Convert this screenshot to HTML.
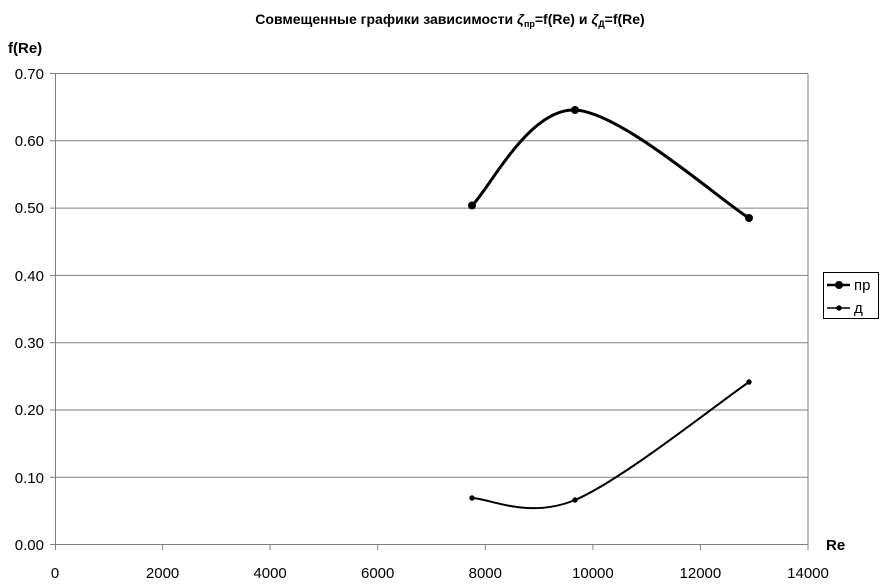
<!DOCTYPE html>
<html><head><meta charset="utf-8"><style>
body{margin:0;background:#fff;}
svg{display:block;font-family:"Liberation Sans",Arial,sans-serif;}
</style></head><body>
<svg width="888" height="588" viewBox="0 0 888 588" xmlns="http://www.w3.org/2000/svg">
<rect width="888" height="588" fill="#fff"/>
<text x="450" y="24" font-size="14" font-weight="bold" text-anchor="middle">Совмещенные графики зависимости <tspan font-style="italic">ζ</tspan><tspan font-size="9" dy="3">пр</tspan><tspan dy="-3">=f(Re) и </tspan><tspan font-style="italic">ζ</tspan><tspan font-size="9" dy="3">Д</tspan><tspan dy="-3">=f(Re)</tspan></text>
<text x="8" y="53" font-size="15" font-weight="bold">f(Re)</text>
<g stroke="#808080" stroke-width="1">
<line x1="55" y1="73.5" x2="808" y2="73.5"/>
<line x1="55" y1="140.8" x2="808" y2="140.8"/>
<line x1="55" y1="208.1" x2="808" y2="208.1"/>
<line x1="55" y1="275.4" x2="808" y2="275.4"/>
<line x1="55" y1="342.7" x2="808" y2="342.7"/>
<line x1="55" y1="410" x2="808" y2="410"/>
<line x1="55" y1="477.3" x2="808" y2="477.3"/>
<line x1="808" y1="73.5" x2="808" y2="544.5"/>
<line x1="55.5" y1="73" x2="55.5" y2="550"/>
<line x1="55" y1="544.5" x2="808" y2="544.5"/>
</g>
<g stroke="#808080">
<line x1="162.6" y1="544" x2="162.6" y2="550"/><line x1="270.1" y1="544" x2="270.1" y2="550"/>
<line x1="377.7" y1="544" x2="377.7" y2="550"/><line x1="485.3" y1="544" x2="485.3" y2="550"/>
<line x1="592.9" y1="544" x2="592.9" y2="550"/><line x1="700.4" y1="544" x2="700.4" y2="550"/>
<line x1="808" y1="544" x2="808" y2="550"/>
<line x1="50" y1="73.5" x2="55" y2="73.5"/><line x1="50" y1="140.8" x2="55" y2="140.8"/><line x1="50" y1="208.1" x2="55" y2="208.1"/><line x1="50" y1="275.4" x2="55" y2="275.4"/><line x1="50" y1="342.7" x2="55" y2="342.7"/><line x1="50" y1="410" x2="55" y2="410"/><line x1="50" y1="477.3" x2="55" y2="477.3"/><line x1="50" y1="544.5" x2="55" y2="544.5"/>
</g>
<g font-size="15" text-anchor="end">
<text x="44" y="79">0.70</text><text x="44" y="146">0.60</text><text x="44" y="213">0.50</text><text x="44" y="281">0.40</text><text x="44" y="348">0.30</text><text x="44" y="415">0.20</text><text x="44" y="483">0.10</text><text x="44" y="550">0.00</text>
</g>
<g font-size="15" text-anchor="middle">
<text x="55" y="578">0</text><text x="162.6" y="578">2000</text><text x="270.1" y="578">4000</text><text x="377.7" y="578">6000</text><text x="485.3" y="578">8000</text><text x="592.9" y="578">10000</text><text x="700.4" y="578">12000</text><text x="808" y="578">14000</text>
</g>
<text x="826" y="550" font-size="15" font-weight="bold">Re</text>
<path d="M472,205.5 C489,189.6 528.8,107.9 575,110 C621.2,112.1 720,200 749,218" fill="none" stroke="#000" stroke-width="3"/>
<circle cx="472" cy="205.5" r="4"/><circle cx="575" cy="110" r="4"/><circle cx="749" cy="218" r="4"/>
<path d="M472,498 C489,498.3 528.8,519.3 575,500 C621.2,480.7 720,401.7 749,382" fill="none" stroke="#000" stroke-width="2"/>
<circle cx="472" cy="498" r="2.7"/><circle cx="575" cy="500" r="2.7"/><circle cx="749" cy="382" r="2.7"/>
<rect x="823.5" y="272.5" width="55" height="46" fill="#fff" stroke="#000"/>
<line x1="827" y1="285" x2="850" y2="285" stroke="#000" stroke-width="2.5"/><circle cx="839" cy="285" r="4"/>
<line x1="827" y1="308" x2="850" y2="308" stroke="#000" stroke-width="1.5"/><circle cx="839" cy="308" r="2.7"/>
<text x="854" y="290" font-size="15">пр</text>
<text x="854" y="313" font-size="15">д</text>
</svg>
</body></html>
